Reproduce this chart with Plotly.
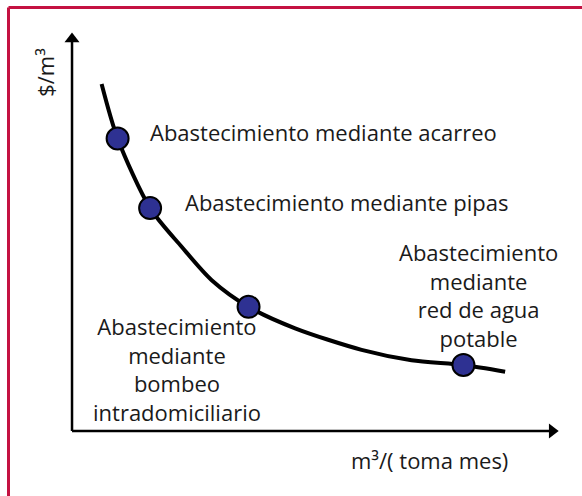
import plotly.graph_objects as go

# curve (arbitrary units, origin at the axes corner)
curve_x = [0.61, 0.94, 1.61, 2.26, 2.88, 3.64, 4.60, 5.97, 7.00, 8.07, 8.93]
curve_y = [8.72, 7.35, 5.60, 4.63, 3.79, 3.12, 2.58, 2.04, 1.78, 1.66, 1.49]

# the four supply options
point_x = [0.94, 1.61, 3.64, 8.07]
point_y = [7.35, 5.60, 3.12, 1.66]
labels = [
    "Abastecimiento mediante acarreo",
    "Abastecimiento mediante pipas",
    "Abastecimiento<br>mediante<br>bombeo<br>intradomiciliario",
    "Abastecimiento<br>mediante<br>red de agua<br>potable",
]
x_title = "m³/( toma mes)"
y_title = "$/m³"

FONT = "Open Sans"
TXT = "#1a1a1a"

fig = go.Figure()

# axes with arrow heads
fig.add_trace(go.Scatter(x=[0, 0], y=[0, 9.85], mode="lines",
                         line=dict(color="black", width=2.5), hoverinfo="skip"))
fig.add_trace(go.Scatter(x=[0, 9.85], y=[0, 0], mode="lines",
                         line=dict(color="black", width=2.5), hoverinfo="skip"))
fig.add_trace(go.Scatter(x=[0, 9.9], y=[9.85, 0], mode="markers",
                         marker=dict(symbol=["triangle-up", "triangle-right"], size=13,
                                     color="black"), hoverinfo="skip"))

fig.add_trace(go.Scatter(x=curve_x, y=curve_y, mode="lines", line_shape="spline",
                         line=dict(color="black", width=4, smoothing=0.8), hoverinfo="skip"))
fig.add_trace(go.Scatter(x=point_x, y=point_y, mode="markers",
                         marker=dict(size=22, color="#2e3192",
                                     line=dict(color="black", width=2))))

# labels
fig.add_annotation(x=point_x[0], y=point_y[0], text=labels[0], showarrow=False,
                   xanchor="left", xshift=30, yshift=6)
fig.add_annotation(x=point_x[1], y=point_y[1], text=labels[1], showarrow=False,
                   xanchor="left", xshift=33, yshift=6)
fig.add_annotation(x=point_x[2], y=point_y[2], text=labels[2], showarrow=False,
                   xanchor="center", yanchor="middle", xshift=-72, yshift=-62)
fig.add_annotation(x=point_x[3], y=point_y[3], text=labels[3], showarrow=False,
                   xanchor="center", yanchor="middle", xshift=15, yshift=70)

fig.add_annotation(x=7.38, y=-0.72, text=x_title, showarrow=False)
fig.add_annotation(x=-0.56, y=9.02, text=y_title, showarrow=False, textangle=-90)

fig.update_annotations(font=dict(family=FONT, size=22, color=TXT))

# page border (left and top visible)
fig.add_shape(type="line", xref="paper", yref="paper", x0=8.5 / 582, x1=8.5 / 582,
              y0=0, y1=1 - 7.5 / 496, line=dict(color="#c41241", width=3))
fig.add_shape(type="line", xref="paper", yref="paper", x0=8.5 / 582, x1=1,
              y0=1 - 7.5 / 496, y1=1 - 7.5 / 496, line=dict(color="#c41241", width=3))

fig.update_layout(
    width=582, height=496,
    margin=dict(l=0, r=0, t=0, b=0),
    paper_bgcolor="white", plot_bgcolor="white",
    showlegend=False,
    xaxis=dict(range=[-1.485, 10.515], visible=False, fixedrange=True),
    yaxis=dict(range=[-1.633, 10.829], visible=False, fixedrange=True),
)

fig.write_html("out.html", config={"displayModeBar": False},
               post_script="document.body.style.margin='0';")
